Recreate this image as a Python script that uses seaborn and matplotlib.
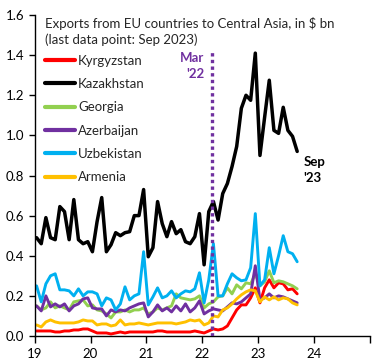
import numpy as np
import pandas as pd
import seaborn as sns
import matplotlib.pyplot as plt

# monthly exports, Jan 2019 .. Sep 2023, $ bn
kyrgyzstan = [0.025, 0.025, 0.025, 0.025, 0.02, 0.02, 0.025, 0.025, 0.03, 0.03, 0.035, 0.035,
              0.025, 0.015, 0.015, 0.015, 0.01, 0.015, 0.02, 0.015, 0.02, 0.02, 0.02, 0.02,
              0.02, 0.02, 0.025, 0.025, 0.02, 0.02, 0.02, 0.02, 0.02, 0.02, 0.025, 0.02,
              0.015, 0.025, 0.035, 0.03, 0.035, 0.05, 0.09, 0.13, 0.155, 0.155, 0.19, 0.24,
              0.165, 0.24, 0.28, 0.24, 0.265, 0.26, 0.23, 0.235, 0.21]
kazakhstan = [0.49, 0.46, 0.59, 0.49, 0.48, 0.645, 0.62, 0.48, 0.68, 0.48, 0.46, 0.47,
              0.42, 0.57, 0.69, 0.42, 0.455, 0.515, 0.50, 0.515, 0.52, 0.60, 0.60, 0.73,
              0.395, 0.44, 0.67, 0.56, 0.495, 0.57, 0.51, 0.53, 0.47, 0.46, 0.495, 0.61,
              0.355, 0.62, 0.67, 0.578, 0.71, 0.76, 0.845, 0.945, 1.135, 1.20, 1.175, 1.41,
              0.90, 1.09, 1.275, 1.025, 1.01, 1.14, 1.025, 0.995, 0.92]
georgia = [0.15, 0.13, 0.14, 0.17, 0.14, 0.15, 0.14, 0.13, 0.17, 0.175, 0.18, 0.15,
           0.155, 0.13, 0.125, 0.11, 0.09, 0.12, 0.12, 0.13, 0.12, 0.13, 0.13, 0.14,
           0.11, 0.12, 0.14, 0.13, 0.14, 0.15, 0.21, 0.19, 0.185, 0.18, 0.185, 0.20,
           0.14, 0.16, 0.17, 0.195, 0.20, 0.24, 0.21, 0.255, 0.235, 0.265, 0.26, 0.31,
           0.25, 0.27, 0.325, 0.265, 0.275, 0.27, 0.26, 0.25, 0.235]
azerbaijan = [0.15, 0.125, 0.20, 0.145, 0.16, 0.145, 0.16, 0.125, 0.15, 0.16, 0.185, 0.19,
              0.14, 0.135, 0.135, 0.10, 0.13, 0.12, 0.13, 0.125, 0.14, 0.15, 0.16, 0.165,
              0.095, 0.12, 0.155, 0.125, 0.14, 0.12, 0.15, 0.125, 0.16, 0.12, 0.14, 0.175,
              0.11, 0.125, 0.135, 0.13, 0.125, 0.145, 0.165, 0.16, 0.17, 0.19, 0.21, 0.35,
              0.18, 0.19, 0.21, 0.19, 0.20, 0.195, 0.185, 0.175, 0.165]
uzbekistan = [0.25, 0.17, 0.26, 0.30, 0.31, 0.23, 0.23, 0.225, 0.20, 0.235, 0.20, 0.22,
              0.22, 0.21, 0.15, 0.19, 0.18, 0.13, 0.16, 0.245, 0.18, 0.20, 0.21, 0.42,
              0.155, 0.195, 0.24, 0.19, 0.20, 0.225, 0.19, 0.21, 0.225, 0.22, 0.235, 0.315,
              0.165, 0.28, 0.46, 0.20, 0.20, 0.26, 0.31, 0.29, 0.275, 0.28, 0.34, 0.61,
              0.25, 0.28, 0.44, 0.31, 0.40, 0.50, 0.42, 0.41, 0.37]
armenia = [0.055, 0.045, 0.07, 0.08, 0.07, 0.065, 0.065, 0.065, 0.065, 0.07, 0.08, 0.075,
           0.075, 0.055, 0.06, 0.06, 0.05, 0.055, 0.08, 0.055, 0.06, 0.06, 0.065, 0.06,
           0.055, 0.06, 0.065, 0.065, 0.065, 0.065, 0.06, 0.065, 0.07, 0.08, 0.075, 0.08,
           0.055, 0.065, 0.10, 0.095, 0.13, 0.14, 0.16, 0.185, 0.205, 0.22, 0.23, 0.225,
           0.17, 0.195, 0.18, 0.195, 0.18, 0.19, 0.185, 0.165, 0.155]

countries = ["Kyrgyzstan", "Kazakhstan", "Georgia", "Azerbaijan", "Uzbekistan", "Armenia"]
colors = ["#FF0000", "#000000", "#92D050", "#7030A0", "#00B0F0", "#FFC000"]
year_ticks = [19, 20, 21, 22, 23, 24, 25]
year_labels = ["19", "20", "21", "22", "23", "24", ""]

# month positions on a "two-digit year" axis
months = 19 + (np.arange(len(kazakhstan)) + 0.4) / 12

series = dict(zip(countries, [kyrgyzstan, kazakhstan, georgia, azerbaijan, uzbekistan, armenia]))
df = pd.concat([pd.DataFrame({"x": months, "value": v, "country": c}) for c, v in series.items()])

sns.set_style("ticks")
plt.rcParams["font.family"] = ["Lato", "DejaVu Sans"]

fig = plt.figure(figsize=(3.84, 3.61), dpi=100)
ax = fig.add_axes([0.0904, 0.0693, 0.8726, 0.8891])

sns.lineplot(data=df, x="x", y="value", hue="country", hue_order=countries,
             palette=colors, ax=ax, linewidth=2.1, legend=True)
for line, c in zip(ax.lines, countries):
    if c == "Kazakhstan":
        line.set_linewidth(2.5)

ax.vlines(22.18, 0, 1.42, colors="#7030A0", linestyles=(0, (1, 1)), linewidth=2.4, zorder=5)
ax.text(22.03, 1.415, "Mar\n'22", color="#7030A0", fontsize=9.5, fontweight="bold",
        ha="right", va="top", linespacing=1.35)
ax.text(23.81, 0.895, "Sep\n'23", color="black", fontsize=9.5, fontweight="bold",
        ha="left", va="top", linespacing=1.35)
ax.text(0.03, 0.995, "Exports from EU countries to Central Asia, in $ bn\n(last data point: Sep 2023)",
        transform=ax.transAxes, fontsize=9.5, ha="left", va="top", linespacing=1.35)

ax.set_xlim(19, 25)
ax.set_ylim(0, 1.6)
ax.set_xticks(year_ticks)
ax.set_xticklabels(year_labels)
ax.set_yticks(np.arange(0, 1.61, 0.2))
ax.set_yticklabels([f"{v:.1f}" for v in np.arange(0, 1.61, 0.2)])
ax.tick_params(axis="both", labelsize=9.5, colors="black", direction="out", width=1)
ax.tick_params(axis="x", length=5)
ax.tick_params(axis="y", length=4)
ax.set_xlabel("")
ax.set_ylabel("")
for s in ["top", "right"]:
    ax.spines[s].set_visible(False)
for s in ["left", "bottom"]:
    ax.spines[s].set_color("black")
    ax.spines[s].set_linewidth(1)

handles, labels = ax.get_legend_handles_labels()
for h in handles:
    h.set_linewidth(3)
ax.legend(handles, labels, loc="upper left", bbox_to_anchor=(0.015, 0.893), frameon=False,
          fontsize=9.5, handlelength=2.3, handletextpad=0.2, labelspacing=0.86,
          borderaxespad=0)

fig.savefig("out.png", dpi=100)
